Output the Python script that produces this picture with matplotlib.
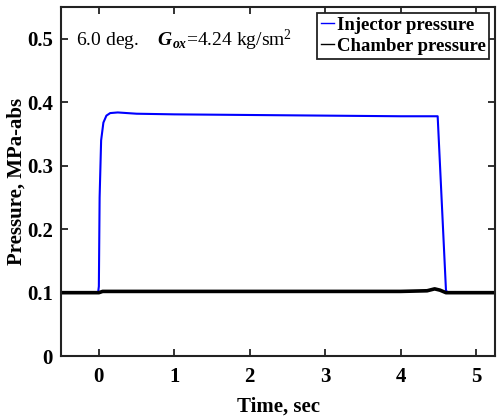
import matplotlib.pyplot as plt

plt.rcParams['font.family'] = ['Liberation Serif', 'DejaVu Serif']
plt.rcParams['mathtext.fontset'] = 'custom'
plt.rcParams['mathtext.rm'] = 'Liberation Serif'
plt.rcParams['mathtext.it'] = 'Liberation Serif:italic'
plt.rcParams['mathtext.bf'] = 'Liberation Serif:bold'
plt.rcParams['mathtext.bfit'] = 'Liberation Serif:bold:italic'

# injector pressure trace (MPa-abs)
t_inj = [-0.5, -0.01, 0.0, 0.01, 0.03, 0.06, 0.1, 0.15, 0.25, 0.5, 1.0, 2.0,
         3.0, 4.0, 4.49, 4.6, 4.62, 5.25]
p_inj = [0.100, 0.100, 0.110, 0.250, 0.340, 0.368, 0.379, 0.383, 0.384, 0.382,
         0.381, 0.380, 0.379, 0.378, 0.378, 0.104, 0.100, 0.100]

# chamber pressure trace (MPa-abs)
t_ch = [-0.5, 0.0, 0.05, 1.0, 2.0, 3.0, 4.0, 4.35, 4.45, 4.52, 4.6, 5.25]
p_ch = [0.100, 0.100, 0.102, 0.102, 0.102, 0.102, 0.102, 0.103, 0.106, 0.104,
        0.100, 0.100]

fig = plt.figure(figsize=(4.97, 4.18), dpi=100)
ax = fig.add_axes([0.123, 0.148, 0.873, 0.835])

ax.plot(t_inj, p_inj, color='#0000ff', lw=1.5, label='Injector pressure')
ax.plot(t_ch, p_ch, color='black', lw=2.6, label='Chamber pressure')

ax.set_xlim(-0.5, 5.25)
ax.set_ylim(0, 0.55)
ax.set_xticks([0, 1, 2, 3, 4, 5])
ax.set_yticks([0, 0.1, 0.2, 0.3, 0.4, 0.5])
ax.set_yticklabels(['0', '0.1', '0.2', '0.3', '0.4', '0.5'])
ax.tick_params(direction='in', top=True, right=True, length=5, width=1.3,
               labelsize=15, color='#222222')
ax.tick_params(axis='x', pad=8)
ax.tick_params(axis='y', pad=6)
for lbl in ax.get_xticklabels() + ax.get_yticklabels():
    lbl.set_fontweight('bold')
for s in ax.spines.values():
    s.set_linewidth(1.5)
    s.set_color('#222222')

ax.set_xlabel('Time, sec', fontsize=15, fontweight='bold', labelpad=7)
ax.set_ylabel('Pressure, MPa-abs', fontsize=15, fontweight='bold', labelpad=0)

ax.text(0.035, 0.905, r'6.0 deg.    $\mathbfit{G}_{\mathbfit{ox}}$=4.24 kg/sm$^2$',
        transform=ax.transAxes, fontsize=14, va='center', ha='left')

leg = ax.legend(loc='upper right', bbox_to_anchor=(1.0, 1.0),
                prop={'weight': 'bold', 'size': 13.5}, handlelength=0.7,
                handletextpad=0.15, borderpad=0.2, labelspacing=0.22,
                borderaxespad=0.3, fancybox=False, framealpha=1)
leg.get_frame().set_edgecolor('#222222')
leg.get_frame().set_linewidth(1.3)
for h in leg.get_lines():
    h.set_linewidth(1.0)

fig.savefig('out.png', dpi=100)
